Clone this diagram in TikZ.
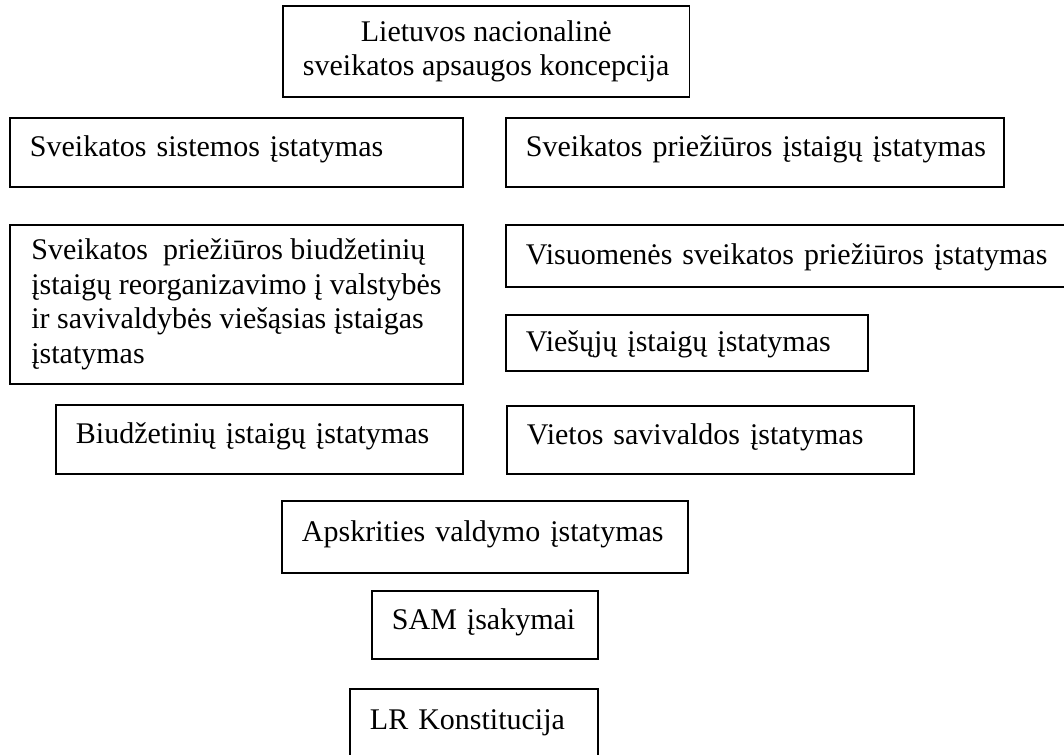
\documentclass[tikz,border=0pt]{standalone}
\usepackage{fontspec}
\setmainfont{Liberation Serif}
\tikzset{
  lawbox/.style={draw, line width=0.75pt, anchor=north west, align=left,
    inner xsep=8pt, inner ysep=1pt, font=\fontsize{12}{13.8}\selectfont},
  onerow/.style={text height=8pt, text depth=#1},
  onerow/.default=4.6pt
}

\begin{document}
\begin{tikzpicture}[x=0.4pt,y=-0.4pt]
    \useasboundingbox (0,0) rectangle (1064,754);
    % top of the hierarchy
    \node[lawbox, align=center, minimum width=162pt, minimum height=36.4pt] (konc) at (282,5)
        {Lietuvos nacionalinė\\ sveikatos apsaugos koncepcija};
    % left column
    \node[lawbox, onerow, text width=165.2pt, minimum width=181.2pt, minimum height=27.6pt] (sistemos) at (9,117)
        {\mbox{Sveikatos sistemos įstatymas}};
    \node[lawbox, minimum width=181.2pt, minimum height=63.6pt] (reorg) at (9,224)
        {Sveikatos\ \ priežiūros biudžetinių\\ įstaigų reorganizavimo į valstybės\\ ir savivaldybės viešąsias įstaigas\\ įstatymas};
    \node[lawbox, onerow, text width=146.8pt, minimum width=162.8pt, minimum height=27.6pt] (biudzet) at (55,404)
        {\mbox{Biudžetinių įstaigų įstatymas}};
    % right column
    \node[lawbox, onerow, text width=183.2pt, minimum width=199.2pt, minimum height=27.6pt] (istaigu) at (505,117)
        {\mbox{Sveikatos priežiūros įstaigų įstatymas}};
    \node[lawbox, onerow=1.5pt, text width=210.8pt, minimum width=226.8pt, minimum height=24.8pt] (visuom) at (505,224)
        {\mbox{Visuomenės sveikatos priežiūros įstatymas}};
    \node[lawbox, onerow=1.5pt, text width=128.8pt, minimum width=144.8pt, minimum height=22.4pt] (viesuju) at (505,314)
        {\mbox{Viešųjų įstaigų įstatymas}};
    \node[lawbox, onerow, text width=146.8pt, minimum width=162.8pt, minimum height=27.2pt] (vietos) at (506,405)
        {\mbox{Vietos savivaldos įstatymas}};
    % bottom, centred
    \node[lawbox, onerow, text width=146.4pt, minimum width=162.4pt, minimum height=28.8pt] (apskr) at (281,500)
        {\mbox{Apskrities valdymo įstatymas}};
    \node[lawbox, onerow, text width=74.4pt, minimum width=90.4pt, minimum height=27.2pt] (sam) at (371,590)
        {\mbox{SAM įsakymai}};
    \node[lawbox, onerow, text width=83.2pt, minimum width=99.2pt, minimum height=28.8pt] (lrk) at (349,688)
        {\mbox{LR Konstitucija}};
\end{tikzpicture}
\end{document}
